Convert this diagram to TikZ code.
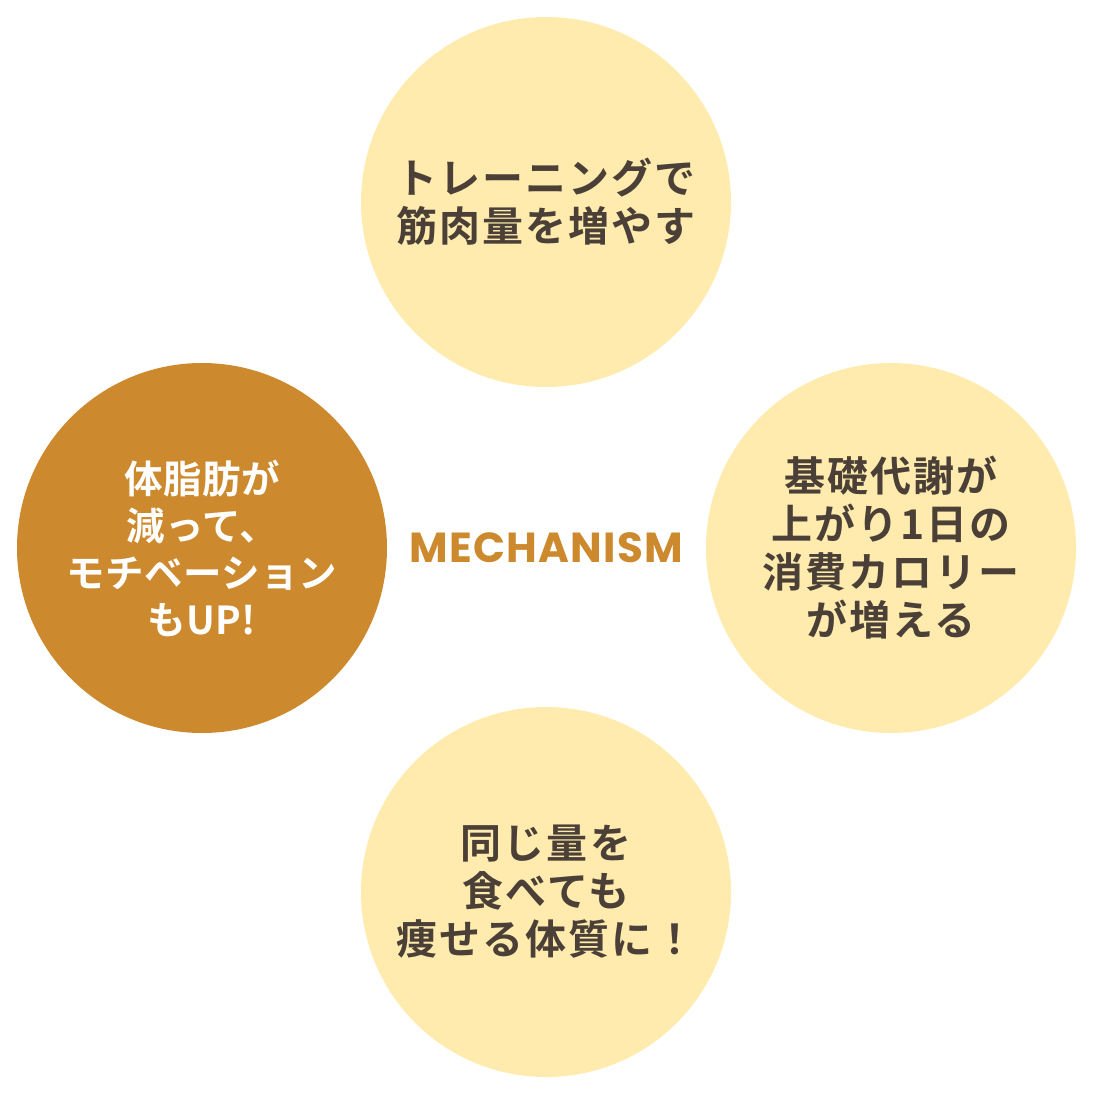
\documentclass[tikz,border=0pt]{standalone}
\usepackage{fontspec}
\newfontfamily\jpfont{Noto Sans CJK JP}[BoldFont={Noto Sans CJK JP Bold}, LetterSpace=5]
\newfontfamily\jptight{Noto Sans CJK JP}[BoldFont={Noto Sans CJK JP Bold}, LetterSpace=1]
\newfontfamily\mechfont{Poppins}[LetterSpace=3]
\usetikzlibrary{positioning}
\definecolor{paleyellow}{HTML}{FFEBAD}
\definecolor{amber}{HTML}{CD892D}
\definecolor{darkbrown}{HTML}{4B4037}

\begin{document}
\begin{tikzpicture}[
  x=1pt, y=-1pt,
  bubble/.style={
    circle, fill=paleyellow, minimum size=370pt, inner sep=0pt,
    align=center, text=darkbrown,
    font=\jpfont\bfseries\fontsize{41}{48}\selectfont,
  },
  hotbubble/.style={bubble, fill=amber, text=white,
    font=\jptight\bfseries\fontsize{38.5}{47}\selectfont},
  mechtext/.style={font=\mechfont\bfseries\fontsize{42}{48}\selectfont, text=amber},
]
\useasboundingbox (0,0) rectangle (1094,1094);

% Four circles of the cycle
\node[bubble] (muscle) at (546,202) {トレーニングで\\筋肉量を増やす};
\node[bubble] (basal) at (891,548) {基礎代謝が\\上がり1日の\\消費カロリー\\が増える};
\node[bubble] (body) at (546,892) {同じ量を\\食べても\\痩せる体質に！};
\node[hotbubble] (motive) at (202,548) {体脂肪が\\減って、\\モチベーション\\もUP!};

% Centre title
\node[mechtext] (mech) at (546,548) {MECHANISM};

\end{tikzpicture}
\end{document}
